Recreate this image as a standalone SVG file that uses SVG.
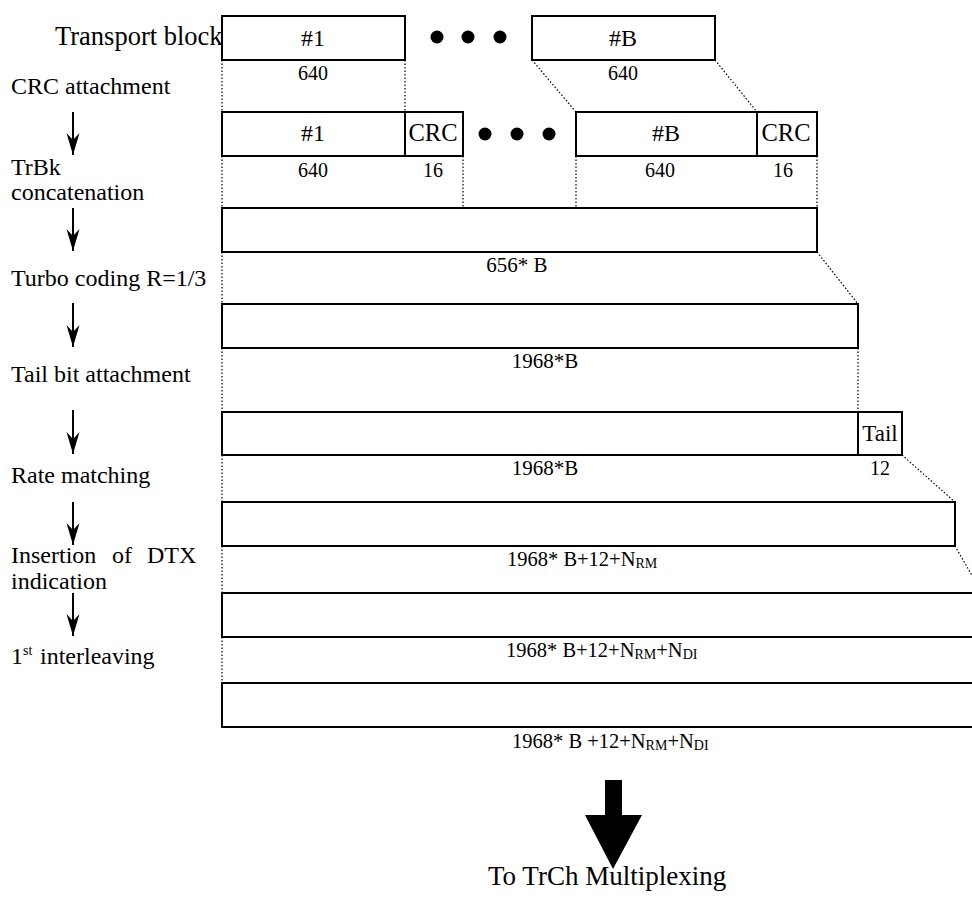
<svg xmlns="http://www.w3.org/2000/svg" width="972" height="902" viewBox="0 0 972 902">
<defs>
<style>
text{font-family:"Liberation Serif","Times New Roman",serif;fill:#000}
.lbl{font-size:24px}
.num{font-size:20px;text-anchor:middle}
.num2{font-size:21px;text-anchor:middle}
.box{fill:#fff;stroke:#000;stroke-width:2}
.bt{font-size:24px;text-anchor:middle}
.dot{stroke:#000;stroke-width:1.2;stroke-dasharray:1.5 2;fill:none}
.arr{stroke:#000;stroke-width:2;fill:none;marker-end:url(#ah)}
.sub{font-size:14px}
</style>
<marker id="ah" markerUnits="userSpaceOnUse" markerWidth="24" markerHeight="16" viewBox="-22 -8 24 16" refX="0" refY="0" orient="auto">
<path d="M0,0 L-22,-6.5 L-15,0 L-22,6.5 Z" fill="#000"/>
</marker>
</defs>
<rect width="972" height="902" fill="#fff"/>

<g id="connectors">
<line class="dot" x1="222" y1="60" x2="222" y2="112"/>
<line class="dot" x1="405" y1="60" x2="405" y2="112"/>
<line class="dot" x1="532" y1="60" x2="576" y2="112"/>
<line class="dot" x1="715" y1="60" x2="757" y2="112"/>
<line class="dot" x1="222" y1="156" x2="222" y2="208"/>
<line class="dot" x1="463" y1="156" x2="463" y2="208"/>
<line class="dot" x1="576" y1="156" x2="576" y2="208"/>
<line class="dot" x1="817" y1="156" x2="817" y2="208"/>
<line class="dot" x1="222" y1="252" x2="222" y2="304"/>
<line class="dot" x1="817" y1="252" x2="858" y2="304"/>
<line class="dot" x1="222" y1="348" x2="222" y2="412"/>
<line class="dot" x1="858" y1="348" x2="858" y2="412"/>
<line class="dot" x1="222" y1="455" x2="222" y2="502"/>
<line class="dot" x1="902" y1="455" x2="955" y2="502"/>
<line class="dot" x1="222" y1="546" x2="222" y2="593"/>
<line class="dot" x1="955" y1="546" x2="982" y2="593"/>
<line class="dot" x1="222" y1="637" x2="222" y2="683"/>
<line class="arr" x1="73" y1="112" x2="73" y2="155"/>
<line class="arr" x1="73" y1="208" x2="73" y2="251"/>
<line class="arr" x1="73" y1="303" x2="73" y2="347"/>
<line class="arr" x1="73" y1="410" x2="73" y2="454"/>
<line class="arr" x1="73" y1="502" x2="73" y2="545"/>
<line class="arr" x1="73" y1="593" x2="73" y2="636"/>
<polygon points="605,780 622,780 622,815 642,815 613,869 585,815 605,815" fill="#000"/>
</g>

<g id="labels">
<text x="55" y="45" style="font-size:26.5px">Transport block</text>
<text class="lbl" x="11" y="94">CRC attachment</text>
<text class="lbl" x="11" y="175">TrBk</text>
<text class="lbl" x="11" y="200">concatenation</text>
<text class="lbl" x="11" y="286">Turbo coding R=1/3</text>
<text class="lbl" x="11" y="382">Tail bit attachment</text>
<text class="lbl" x="11" y="483">Rate matching</text>
<text class="lbl" y="563"><tspan x="11">Insertion</tspan><tspan x="112">of</tspan><tspan x="147">DTX</tspan></text>
<text class="lbl" x="11" y="589">indication</text>
<text class="lbl" x="11" y="664">1<tspan class="sub" dy="-9">st</tspan><tspan x="40" dy="9">interleaving</tspan></text>
<text x="488" y="885" style="font-size:27px">To TrCh Multiplexing</text>
</g>

<g id="tb1">
<rect class="box" x="222" y="16" width="183" height="44"/>
<text class="bt" x="313" y="46">#1</text>
<text class="num" x="313" y="80">640</text>
</g>
<g id="dots1">
<circle cx="437" cy="37" r="6.5"/><circle cx="468" cy="37" r="6.5"/><circle cx="500" cy="37" r="6.5"/>
</g>
<g id="tbB">
<rect class="box" x="532" y="16" width="183" height="44"/>
<text class="bt" x="623" y="46">#B</text>
<text class="num" x="623" y="80">640</text>
</g>

<g id="crc1">
<rect class="box" x="222" y="112" width="183" height="44"/>
<rect class="box" x="405" y="112" width="58" height="44"/>
<text class="bt" x="313" y="141">#1</text>
<text class="bt" x="433" y="141" style="font-size:24.5px">CRC</text>
<text class="num" x="313" y="177">640</text>
<text class="num" x="433" y="177">16</text>
</g>
<g id="dots2">
<circle cx="485" cy="134" r="6.5"/><circle cx="517" cy="134" r="6.5"/><circle cx="549" cy="134" r="6.5"/>
</g>
<g id="crcB">
<rect class="box" x="576" y="112" width="181" height="44"/>
<rect class="box" x="757" y="112" width="60" height="44"/>
<text class="bt" x="666" y="141">#B</text>
<text class="bt" x="786" y="141" style="font-size:24.5px">CRC</text>
<text class="num" x="660" y="177">640</text>
<text class="num" x="783" y="177">16</text>
</g>

<g id="concat">
<rect class="box" x="222" y="208" width="595" height="44"/>
<text class="num2" x="517" y="272">656* B</text>
</g>

<g id="turbo">
<rect class="box" x="222" y="304" width="636" height="44"/>
<text class="num2" x="545" y="368">1968*B</text>
</g>

<g id="tail">
<rect class="box" x="222" y="412" width="636" height="43"/>
<rect class="box" x="858" y="412" width="44" height="43"/>
<text x="880" y="441" style="font-size:23px;text-anchor:middle">Tail</text>
<text class="num2" x="545" y="475">1968*B</text>
<text class="num" x="880" y="475">12</text>
</g>

<g id="ratematch">
<rect class="box" x="222" y="502" width="733" height="44"/>
<text x="507" y="566" style="font-size:20.5px">1968* B+12+N<tspan class="sub" dy="2">RM</tspan></text>
</g>

<g id="dtx">
<rect class="box" x="222" y="593" width="770" height="44"/>
<text x="506" y="657" style="font-size:20.5px">1968* B+12+N<tspan class="sub" dy="2">RM</tspan><tspan dy="-2">+N</tspan><tspan class="sub" dy="2">DI</tspan></text>
</g>

<g id="interleave">
<rect class="box" x="222" y="683" width="770" height="44"/>
<text x="512" y="748" style="font-size:20.5px">1968* B +12+N<tspan class="sub" dy="2">RM</tspan><tspan dy="-2">+N</tspan><tspan class="sub" dy="2">DI</tspan></text>
</g>
</svg>
